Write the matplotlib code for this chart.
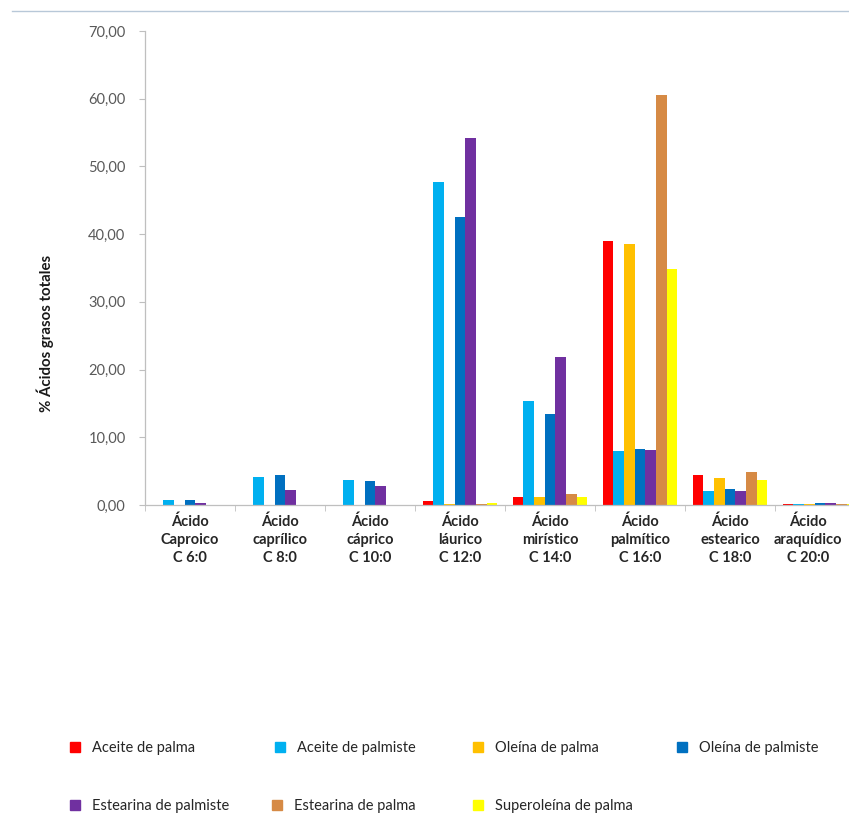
import numpy as np
import matplotlib
matplotlib.use("Agg")
import matplotlib.pyplot as plt
from matplotlib.lines import Line2D
from matplotlib.transforms import ScaledTranslation

plt.rcParams["font.family"] = ["Lato", "DejaVu Sans"]

categories = [
    "Ácido\nCaproico\nC 6:0",
    "Ácido\ncaprílico\nC 8:0",
    "Ácido\ncáprico\nC 10:0",
    "Ácido\nláurico\nC 12:0",
    "Ácido\nmirístico\nC 14:0",
    "Ácido\npalmítico\nC 16:0",
    "Ácido\nestearico\nC 18:0",
    "Ácido\naraquídico\nC 20:0",
]

series_names = [
    "Aceite de palma",
    "Aceite de palmiste",
    "Oleína de palma",
    "Oleína de palmiste",
    "Estearina de palmiste",
    "Estearina de palma",
    "Superoleína de palma",
]

aceite_palma = [0.0, 0.0, 0.0, 0.6, 1.2, 39.0, 4.4, 0.2]
aceite_palmiste = [0.8, 4.1, 3.7, 47.7, 15.4, 8.0, 2.0, 0.2]
oleina_palma = [0.0, 0.0, 0.0, 0.1, 1.2, 38.5, 4.0, 0.2]
oleina_palmiste = [0.7, 4.5, 3.5, 42.5, 13.4, 8.2, 2.4, 0.3]
estearina_palmiste = [0.3, 2.2, 2.8, 54.2, 21.9, 8.1, 2.1, 0.3]
estearina_palma = [0.0, 0.0, 0.0, 0.2, 1.6, 60.6, 4.9, 0.2]
superoleina_palma = [0.0, 0.0, 0.0, 0.3, 1.2, 34.8, 3.7, 0.2]

series_values = [aceite_palma, aceite_palmiste, oleina_palma, oleina_palmiste,
                 estearina_palmiste, estearina_palma, superoleina_palma]
colors = ["#FF0000", "#00B0F0", "#FFC000", "#0070C0", "#7030A0", "#D68A45", "#FFFF00"]

yticks = [0, 10, 20, 30, 40, 50, 60, 70]

W, H = 849, 817
fig = plt.figure(figsize=(W / 100, H / 100), dpi=100)
ax = fig.add_axes([145 / W, 312 / H, 720 / W, 474 / H])

x = np.arange(len(categories))
bw = 0.118
for j, (vals, col) in enumerate(zip(series_values, colors)):
    ax.bar(x + (j - 3) * bw, vals, width=bw, color=col, linewidth=0)

ax.set_xlim(-0.5, len(categories) - 0.5)
ax.set_ylim(0, 70)
ax.set_yticks(yticks)
ax.set_yticklabels([f"{v:.2f}".replace(".", ",") for v in yticks],
                   fontsize=10.5, color="#595959")
ax.set_xticks(x)
ax.set_xticklabels(categories, fontsize=10.5, fontweight="bold", color="#262626",
                   linespacing=1.35)
ax.tick_params(axis="x", length=0, pad=7)
ax.set_xticks(np.arange(len(categories) + 1) - 0.5, minor=True)
ax.tick_params(axis="x", which="minor", length=4, color="#BFBFBF")
ax.tick_params(axis="y", length=4, color="#BFBFBF", pad=10)

# the last category sits at the right edge, pull its label inwards
last = ax.get_xticklabels()[-1]
last.set_transform(last.get_transform() + ScaledTranslation(-0.12, 0, fig.dpi_scale_trans))

for side in ["top", "right"]:
    ax.spines[side].set_visible(False)
for side in ["left", "bottom"]:
    ax.spines[side].set_color("#BFBFBF")
    ax.spines[side].set_linewidth(0.9)

fig.text(45 / W, 1 - 333 / H, "% Ácidos grasos totales", rotation=90,
         ha="center", va="center", fontsize=10.8, fontweight="bold", color="#1a1a1a")

# thin rule across the top
fig.add_artist(Line2D([12 / W, 1], [1 - 11 / H, 1 - 11 / H], color="#B8C8D8", linewidth=1))

# legend entries laid out on a fixed grid
legend_pos = [(69, 748), (274, 748), (472, 748), (676, 748),
              (69, 806), (271, 806), (472, 806)]
for name, col, (lx, ly) in zip(series_names, colors, legend_pos):
    h = Line2D([], [], marker="s", linestyle="none", markersize=6.5,
               markerfacecolor=col, markeredgecolor=col)
    fig.legend(handles=[h], labels=[name], loc="center left",
               bbox_to_anchor=(lx / W, 1 - ly / H), frameon=False,
               borderpad=0, borderaxespad=0, handlelength=0.8,
               handletextpad=0.8, fontsize=10.5, labelcolor="#262626")

fig.savefig("out.png", dpi=100, facecolor="white")
